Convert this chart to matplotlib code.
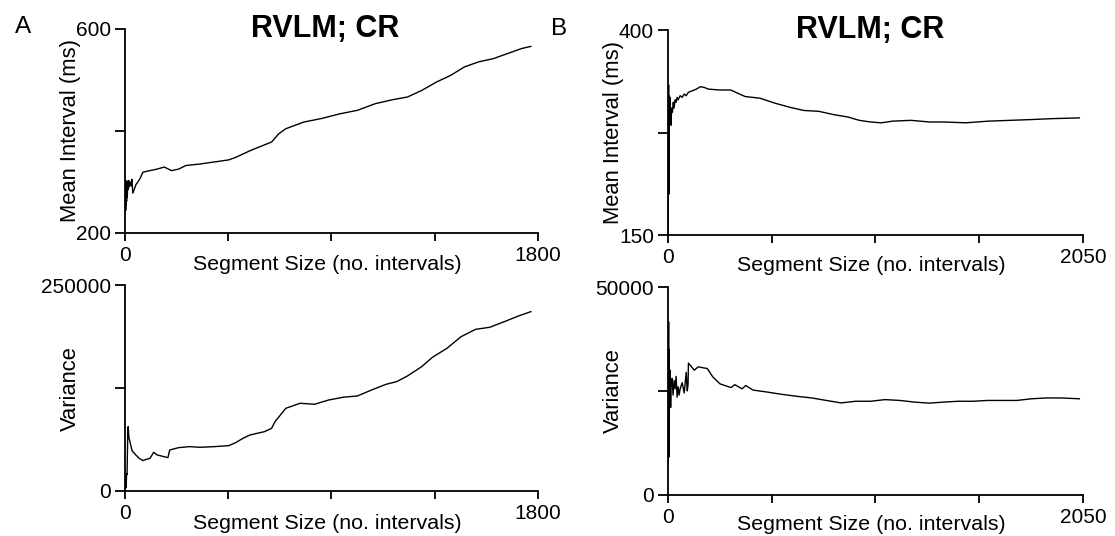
import matplotlib
matplotlib.use("Agg")
import matplotlib.pyplot as plt

plt.rcParams['font.family'] = ['Liberation Sans', 'DejaVu Sans']

# ----- data -----
# panel A, mean interval (ms) vs segment size
a_mean_x = [1, 2, 3, 4, 5, 6, 7, 8, 10, 12, 14, 16, 18, 22, 26, 30, 34, 40, 48, 55,
            65, 78, 109, 140, 171, 203, 234, 265, 327, 390, 452, 483, 545, 639, 670,
            701, 779, 857, 935, 1013, 1091, 1169, 1231, 1294, 1356, 1418, 1480, 1543,
            1605, 1667, 1730, 1769]
a_mean_y = [250, 303, 244, 300, 255, 298, 262, 302, 270, 300, 285, 303, 290, 300, 292,
            305, 278, 285, 295, 299, 306, 319, 322, 325, 329, 322, 325, 332, 335, 339,
            343, 348, 361, 378, 394, 404, 417, 424, 433, 440, 453, 461, 466, 479, 495,
            508, 525, 535, 541, 551, 561, 565]

# panel A, variance vs segment size
a_var_x = [1, 3, 5, 7, 9, 12, 14, 17, 23, 31, 47, 62, 78, 94, 109, 125, 140, 187, 195,
           234, 281, 327, 390, 452, 483, 514, 545, 608, 639, 654, 701, 763, 826, 888,
           950, 1013, 1075, 1138, 1184, 1231, 1293, 1340, 1403, 1465, 1528, 1590, 1653,
           1715, 1769]
a_var_y = [1000, 19500, 4000, 21000, 20000, 70000, 78200, 65000, 58000, 49000, 43800,
           39700, 36900, 38500, 39700, 47000, 43800, 40500, 49800, 52700, 53900, 53100,
           53900, 55100, 58800, 64000, 68100, 72100, 76200, 84300, 100500, 106600,
           105400, 110600, 113900, 115500, 122800, 129700, 132900, 139800, 151100,
           162500, 173400, 187600, 196500, 199000, 205800, 212700, 218000]

# panel B, mean interval (ms)
b_mean_x = [1, 2, 3, 4, 5, 6, 7, 8, 10, 12, 15, 18, 22, 26, 30, 35, 40, 45, 50, 60, 70,
            80, 90, 100, 120, 140, 160, 180, 200, 254, 309, 381, 454, 527, 600, 672,
            745, 818, 890, 945, 1000, 1054, 1109, 1200, 1291, 1363, 1472, 1581, 1690,
            1799, 1890, 2032]
b_mean_y = [152, 290, 333, 200, 320, 260, 310, 295, 318, 290, 284, 305, 300, 312, 305,
            315, 312, 318, 315, 320, 318, 322, 320, 324, 326, 328, 331, 330, 328, 327,
            327, 319, 317, 311, 306, 302, 301, 297, 294, 290, 288, 287, 289, 290, 288,
            288, 287, 289, 290, 291, 292, 293]

# panel B, variance
b_var_x = [1, 2, 3, 4, 5, 6, 7, 9, 11, 13, 15, 20, 25, 30, 35, 40, 45, 50, 55, 60, 70,
           80, 90, 95, 99, 101, 130, 149, 194, 221, 257, 311, 330, 366, 384, 420, 493,
           565, 637, 710, 782, 855, 927, 1000, 1072, 1145, 1217, 1289, 1362, 1434, 1507,
           1579, 1652, 1724, 1796, 1869, 1941, 2032]
b_var_y = [7600, 23000, 41700, 9000, 35000, 18000, 28000, 22000, 30000, 21000, 27000,
           28000, 24000, 27500, 25500, 28500, 23500, 26000, 24000, 25500, 27000, 24500,
           29500, 25000, 26500, 31700, 30000, 30800, 30400, 28400, 26700, 25800, 26500,
           25500, 26300, 25200, 24700, 24150, 23700, 23300, 22700, 22100, 22500, 22500,
           22900, 22700, 22300, 22050, 22300, 22500, 22500, 22700, 22700, 22700, 23100,
           23300, 23300, 23100]

# axis settings per panel
a_xmax, b_xmax = 1800, 2050
a_mean_lim, b_mean_lim = (200, 600), (150, 400)
a_var_lim, b_var_lim = (0, 250000), (0, 50000)

fig = plt.figure(figsize=(11.15, 5.36), dpi=100)

ax_a1 = fig.add_axes([0.1121, 0.5653, 0.3704, 0.3815])
ax_a2 = fig.add_axes([0.1121, 0.0840, 0.3704, 0.3837])
ax_b1 = fig.add_axes([0.5991, 0.5610, 0.3722, 0.3830])
ax_b2 = fig.add_axes([0.5991, 0.0774, 0.3722, 0.3866])


def style(ax, xs, ys, xmax, ylim, ylabel, lab_y):
    ax.plot(xs, ys, color='black', lw=1.0)
    ax.set_xlim(0, xmax)
    ax.set_ylim(*ylim)
    for s in ['top', 'right']:
        ax.spines[s].set_visible(False)
    for s in ['left', 'bottom']:
        ax.spines[s].set_linewidth(1.3)
    ax.set_xticks([0, xmax / 4, xmax / 2, 3 * xmax / 4, xmax])
    ax.set_xticklabels(['0', '', '', '', str(xmax)])
    ax.set_yticks([ylim[0], (ylim[0] + ylim[1]) / 2, ylim[1]])
    ax.set_yticklabels([str(ylim[0]), '', str(ylim[1])])
    ax.tick_params(axis='x', direction='out', length=6, width=1.3, pad=3.5, labelsize=15)
    ax.tick_params(axis='y', direction='out', length=7, width=1.3, pad=3, labelsize=15)
    ax.set_xlabel('Segment Size (no. intervals)', fontsize=15.4, va='center')
    ax.xaxis.set_label_coords(0.49, lab_y)
    ax.set_ylabel(ylabel, fontsize=15.8, va='center')
    ax.yaxis.set_label_coords(-0.132, 0.5)


style(ax_a1, a_mean_x, a_mean_y, a_xmax, a_mean_lim, 'Mean Interval (ms)', -0.156)
style(ax_a2, a_var_x, a_var_y, a_xmax, a_var_lim, 'Variance', -0.156)
style(ax_b1, b_mean_x, b_mean_y, b_xmax, b_mean_lim, 'Mean Interval (ms)', -0.145)
style(ax_b2, b_var_x, b_var_y, b_xmax, b_var_lim, 'Variance', -0.145)

# titles sit inside the top of the upper panels
ax_a1.text(0.484, 0.997, 'RVLM; CR', transform=ax_a1.transAxes, ha='center',
           va='center', fontsize=22, fontweight='bold')
ax_b1.text(0.487, 1.0, 'RVLM; CR', transform=ax_b1.transAxes, ha='center',
           va='center', fontsize=22, fontweight='bold')

fig.text(0.0206, 0.9496, 'A', ha='center', va='center', fontsize=17.5)
fig.text(0.501, 0.946, 'B', ha='center', va='center', fontsize=17.5)

fig.savefig('out.png', dpi=100)
